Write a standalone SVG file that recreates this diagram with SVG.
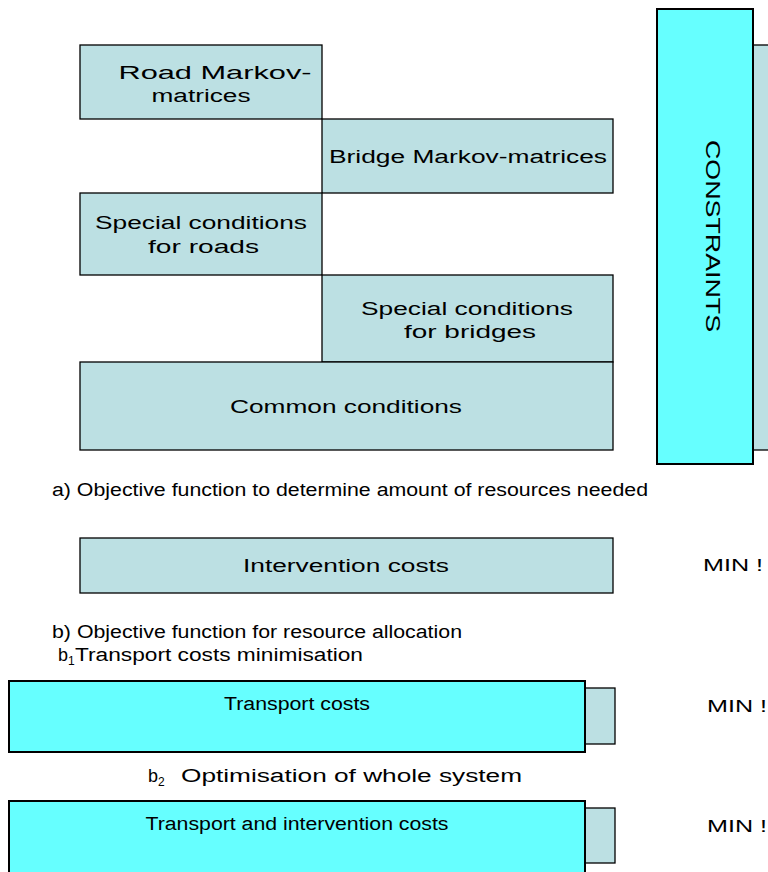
<svg xmlns="http://www.w3.org/2000/svg" width="768" height="872" viewBox="0 0 768 872">
<style>
.lb{fill:#BCE0E3;stroke:#000;stroke-width:1.3}
.cy{fill:#66FFFF;stroke:#000;stroke-width:2}
text{font-family:"Liberation Sans",Arial,sans-serif;fill:#000}
.t{font-size:18px}
.m{font-size:17px}
</style>
<rect width="768" height="872" fill="#fff"/>
<g id="constraints-back"><rect class="lb" x="753" y="45" width="20" height="405"/></g>
<g id="road-markov"><rect class="lb" x="80" y="45" width="242" height="74"/>
<text class="t" x="215" y="79" text-anchor="middle" textLength="193" lengthAdjust="spacingAndGlyphs">Road Markov-</text>
<text class="t" x="201" y="102" text-anchor="middle" textLength="99" lengthAdjust="spacingAndGlyphs">matrices</text></g>
<g id="bridge-markov"><rect class="lb" x="322" y="119" width="291" height="74"/>
<text class="t" x="468" y="163" text-anchor="middle" textLength="278" lengthAdjust="spacingAndGlyphs">Bridge Markov-matrices</text></g>
<g id="special-roads"><rect class="lb" x="80" y="193" width="242" height="82"/>
<text class="t" x="201" y="229" text-anchor="middle" textLength="212" lengthAdjust="spacingAndGlyphs">Special conditions</text>
<text class="t" x="203.5" y="253" text-anchor="middle" textLength="111" lengthAdjust="spacingAndGlyphs">for  roads</text></g>
<g id="special-bridges"><rect class="lb" x="322" y="275" width="291" height="87"/>
<text class="t" x="467" y="315" text-anchor="middle" textLength="212" lengthAdjust="spacingAndGlyphs">Special conditions</text>
<text class="t" x="470" y="338" text-anchor="middle" textLength="132" lengthAdjust="spacingAndGlyphs">for  bridges</text></g>
<g id="common"><rect class="lb" x="80" y="362" width="533" height="88"/>
<text class="t" x="346" y="413" text-anchor="middle" textLength="232" lengthAdjust="spacingAndGlyphs">Common conditions</text></g>
<g id="constraints"><rect class="cy" x="657" y="9" width="96" height="455"/>
<text transform="translate(706,236) rotate(90)" font-size="20" text-anchor="middle" textLength="192" lengthAdjust="spacingAndGlyphs">CONSTRAINTS</text></g>
<g id="label-a"><text class="t" x="52" y="496" textLength="596" lengthAdjust="spacingAndGlyphs">a) Objective function to determine amount of resources needed</text></g>
<g id="intervention"><rect class="lb" x="80" y="538" width="533" height="55"/>
<text class="t" x="346" y="572" text-anchor="middle" textLength="206" lengthAdjust="spacingAndGlyphs">Intervention costs</text></g>
<g id="min1"><text class="m" x="703" y="571" textLength="60" lengthAdjust="spacingAndGlyphs">MIN !</text></g>
<g id="label-b"><text class="t" x="52" y="638" textLength="410" lengthAdjust="spacingAndGlyphs">b) Objective function for resource allocation</text>
<text class="t" x="58" y="661">b<tspan font-size="12" dy="4">1</tspan><tspan dy="-4" x="75" textLength="288" lengthAdjust="spacingAndGlyphs">Transport costs minimisation</tspan></text></g>
<g id="transport"><rect class="lb" x="585" y="688" width="30" height="56"/>
<rect class="cy" x="9" y="681" width="576" height="71"/>
<text class="t" x="297" y="710" text-anchor="middle" textLength="146" lengthAdjust="spacingAndGlyphs">Transport costs</text></g>
<g id="min2"><text class="m" x="707" y="712" textLength="60" lengthAdjust="spacingAndGlyphs">MIN !</text></g>
<g id="label-b2"><text class="t" x="148" y="782">b<tspan font-size="12" dy="4">2</tspan><tspan dy="-4" x="181" textLength="341" lengthAdjust="spacingAndGlyphs">Optimisation of whole system</tspan></text></g>
<g id="transport-intervention"><rect class="lb" x="585" y="808" width="30" height="55"/>
<rect class="cy" x="9" y="801" width="576" height="80"/>
<text class="t" x="297" y="830" text-anchor="middle" textLength="303" lengthAdjust="spacingAndGlyphs">Transport and intervention costs</text></g>
<g id="min3"><text class="m" x="707" y="832" textLength="60" lengthAdjust="spacingAndGlyphs">MIN !</text></g>
<g id="connectors"></g>
</svg>
